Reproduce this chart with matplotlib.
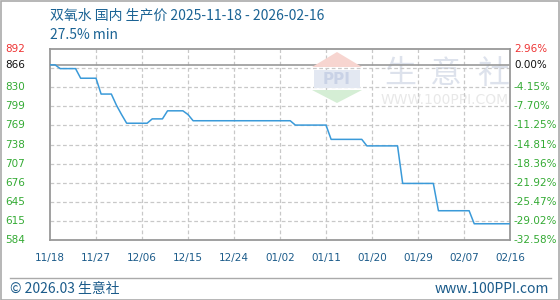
import matplotlib
matplotlib.use("Agg")
import matplotlib.pyplot as plt
from matplotlib.patches import Polygon, Rectangle
import numpy as np

# ---- data ----
days = [0, 1, 2, 5, 6, 9, 10, 12, 13, 14, 15, 19, 20, 22, 23, 26, 27, 28,
        47, 48, 54, 55, 61, 62, 68, 69, 75, 76, 82, 83, 90]
prices = [866, 866, 860, 860, 844.5, 844.5, 819, 819, 801, 786, 772, 772, 779, 779,
          792, 792, 786, 776, 776, 769, 769, 746, 746, 735.5, 735.5, 675, 675,
          631, 631, 610, 610]
x_labels = ["11/18", "11/27", "12/06", "12/15", "12/24", "01/02", "01/11",
            "01/20", "01/29", "02/07", "02/16"]
base_value = 866
y_top = 891.6
y_bottom = 583.85
left_labels = ["584", "615", "645", "676", "707", "738", "769", "799", "830"]
right_labels = ["-32.58%", "-29.02%", "-25.47%", "-21.92%", "-18.36%", "-14.81%",
                "-11.25%", "-7.70%", "-4.15%"]
title = "双氧水 国内 生产价 2025-11-18 - 2026-02-16"
subtitle = "27.5% min"

plt.rcParams['font.family'] = ['Noto Sans CJK SC', 'DejaVu Sans']

W, H = 560, 300
fig = plt.figure(figsize=(W / 100, H / 100), dpi=100)
fig.patch.set_facecolor("white")

L, R, T, B = 50, 510, 49, 240
ax = fig.add_axes([L / W, 1 - B / H, (R - L) / W, (B - T) / H])
ax.set_xlim(0, 90)
ax.set_ylim(y_bottom, y_top)

grid_vals = np.linspace(y_bottom, y_top, 11)
for gv in grid_vals[1:-1]:
    ax.axhline(gv, color="#c8c8c8", lw=0.9, ls=(0, (3, 2)), zorder=1)
for xv in range(9, 90, 9):
    ax.axvline(xv, color="#c8c8c8", lw=0.9, ls=(0, (3, 2)), zorder=1)
ax.axhline(base_value, color="#999999", lw=1.2, zorder=2)

ax.plot(days, prices, color="#3a9ad9", lw=1.1, zorder=4)

for s in ax.spines.values():
    s.set_color("#999999")
    s.set_linewidth(1.3)
ax.set_xticks([])
ax.set_yticks([])

# ---- watermark ----
def fx(px):
    return px / W
def fy(py):
    return 1 - py / H

fig.patches.append(Polygon([[fx(312), fy(67)], [fx(337), fy(52)], [fx(362), fy(67)]],
                           closed=True, transform=fig.transFigure,
                           facecolor="#f7d5d0", edgecolor="none", zorder=0.5))
fig.patches.append(Rectangle((fx(314), fy(88)), 46 / W, 18 / H, transform=fig.transFigure,
                             facecolor="#e3e8f2", edgecolor="none", zorder=0.5))
fig.text(fx(337), fy(79), "PPI", fontsize=11, color="#c9d2e6", ha="center", va="center",
         family=["DejaVu Sans"], weight="bold", zorder=0.6)
fig.patches.append(Polygon([[fx(312), fy(90)], [fx(337), fy(103)], [fx(362), fy(90)]],
                           closed=True, transform=fig.transFigure,
                           facecolor="#d5eed5", edgecolor="none", zorder=0.5))
for cx, ch in zip([400, 446, 493], ["生", "意", "社"]):
    ax.text(fx(cx), fy(74), ch, fontsize=23, color="#dde2ec", ha="center",
            va="center", zorder=0.5, transform=fig.transFigure, clip_on=True)
ax.text(fx(445), fy(100), "WWW.100PPI.COM", fontsize=10, color="#e8e8e8", ha="center",
        va="center", family=["DejaVu Sans"], zorder=0.5, transform=fig.transFigure,
        clip_on=True)

# ---- axis labels ----
tick_font = ["DejaVu Sans"]
lx = -45 / 460 * 90
rx = 90 + 4 / 460 * 90
for gv, lab in zip(grid_vals[:9], left_labels):
    ax.text(lx, gv, lab, fontsize=7.5, color="#33aa33", ha="left",
            va="center", family=tick_font, clip_on=False)
for gv, lab in zip(grid_vals[:9], right_labels):
    ax.text(rx, gv, lab, fontsize=7.5, color="#33aa33", ha="left",
            va="center", family=tick_font, clip_on=False)
ax.text(lx, y_top, "892", fontsize=7.5, color="#ee3333", ha="left",
        va="center", family=tick_font, clip_on=False)
ax.text(lx, base_value, "866", fontsize=7.5, color="#111111", ha="left",
        va="center", family=tick_font, clip_on=False)
ax.text(rx, y_top, "2.96%", fontsize=7.5, color="#ee3333", ha="left",
        va="center", family=tick_font, clip_on=False)
ax.text(rx, base_value, "0.00%", fontsize=7.5, color="#111111", ha="left",
        va="center", family=tick_font, clip_on=False)

for i, lab in enumerate(x_labels):
    fig.text(fx(L + i * 46), fy(258), lab, fontsize=7.5, color="#1b5b8a",
             ha="center", va="center", family=tick_font)

# ---- titles ----
fig.text(fx(50), fy(15), title, fontsize=10, color="#1b6394", ha="left", va="center")
fig.text(fx(50), fy(35), subtitle, fontsize=10, color="#1b6394", ha="left", va="center")

# ---- footer ----
fig.add_artist(plt.Line2D([fx(10), fx(551)], [fy(277.5), fy(277.5)],
                          transform=fig.transFigure, color="#aaaaaa", lw=1))
fig.text(fx(10), fy(289), "© 2026.03 生意社", fontsize=10, color="#1b5b8a",
         ha="left", va="center")
fig.text(fx(549), fy(289), "www.100PPI.com", fontsize=10, color="#1b5b8a",
         ha="right", va="center")

# figure border
fig.add_artist(Rectangle((0.5 / W, 0.5 / H), (W - 1.5) / W, (H - 1.5) / H,
                         transform=fig.transFigure, fill=False,
                         edgecolor="#aaaaaa", lw=1.2))

fig.savefig("out.png", dpi=100)
